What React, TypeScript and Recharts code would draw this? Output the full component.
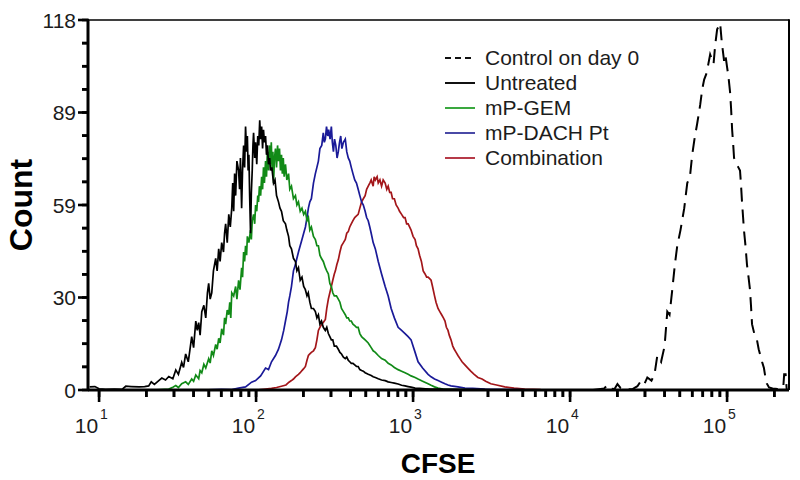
import { LineChart, Line, XAxis, YAxis } from 'recharts';

type Pt = [number, number]; // [CFSE, count]

const controlDay0: Pt[] = [
  [14000, 0], [16500, 0.5], [17300, 1.6], [18200, 0.4], [19200, 0.3], [20030, 1.9], [21000, 0.6], [22500, 0.2],
  [25000, 0.3], [26850, 1.2], [28000, 2.6], [29500, 1.5], [31050, 4], [33000, 3], [34500, 5], [35960, 11],
  [38000, 9], [40000, 14], [41610, 25], [43000, 24], [44770, 32], [46500, 40], [48170, 46], [50500, 51],
  [53360, 58], [55770, 66], [58000, 68], [59980, 75], [62000, 80], [64530, 85], [66000, 88], [67440, 91],
  [69500, 96], [71460, 99], [74000, 101], [76000, 104], [78010, 107], [82000, 104], [84000, 110], [86440, 115],
  [88500, 116], [90320, 117], [92500, 111], [95710, 105], [97500, 107], [100000, 103], [102000, 100], [104500, 95],
  [106000, 90], [107700, 83], [109500, 78], [110800, 74], [115000, 72], [118000, 71], [120900, 70], [122500, 66],
  [124500, 60], [126500, 55], [128100, 51], [131000, 46], [133900, 40], [137000, 36], [139900, 32], [142000, 27],
  [144200, 21], [149000, 18], [155000, 16], [159000, 13], [163000, 11], [167000, 9], [171700, 7], [175500, 4],
  [179400, 2], [185000, 0.8], [195000, 0.5], [210000, 0.3], [222000, 0.6], [228000, 0.8], [231000, 5], [236000, 5],
  [240000, 0],
];

const untreated: Pt[] = [
  [8.7, 1.0], [9.4, 1.1], [10, 0.4], [11, 0.2], [12.5, 0.3], [14, 0.2], [14.8, 1.2], [16, 1.1], [18, 1.0],
  [19.5, 1.1], [20.7, 1.3], [21.5, 2.6], [22.5, 1.8], [24, 3.0], [25.1, 3.8], [26.5, 3.2], [27.8, 4.3], [29.5, 3.6],
  [30.8, 6.4], [32, 5.0], [33.6, 8.8], [34.5, 7.2], [35.6, 11.5], [37, 9.0], [38.9, 17], [40, 13.5], [41.3, 22],
  [42.2, 19], [43.1, 21.5], [44, 17.5], [45.1, 25], [46.5, 27], [47.8, 23], [49, 31], [49.9, 34], [51, 29],
  [52.2, 31], [53.5, 38], [55.3, 42], [56.5, 38], [57.8, 45], [59, 41], [60.4, 47], [62, 44], [63, 50], [64, 53],
  [65.5, 47], [67, 56], [68.5, 52], [70, 58], [71, 66], [72, 57], [73, 69], [74.1, 62], [75.5, 73], [77.4, 70],
  [78.5, 64], [79.5, 74], [80.9, 58], [82, 70], [83.3, 78], [84.5, 71], [85.7, 84], [87, 76], [88, 81], [89, 70],
  [90, 75], [91, 62], [92.2, 50], [93.3, 63], [94.5, 70], [95.5, 78], [96.4, 82], [98, 74], [99.3, 79], [101, 72],
  [102.5, 81], [104, 78], [105.5, 86], [107, 80], [108.5, 84], [110, 77], [111.5, 83], [113, 79], [114.9, 81],
  [116.5, 75], [118, 78], [120, 72], [122, 74], [123.6, 70], [126, 71], [129.2, 66], [132, 67], [135, 62],
  [138.9, 60], [142, 58], [145.2, 57], [149, 54], [153.9, 53], [157, 51], [161, 49], [164, 46], [168, 45],
  [173, 42], [178.1, 41], [182, 38], [186.2, 39], [191, 35], [196, 36], [201, 33], [206, 32], [211, 30],
  [215, 31], [220, 28], [225, 26], [232, 26], [238.6, 25], [244, 23], [249.4, 24], [255, 21], [261, 22],
  [268, 20], [276, 19], [282, 20], [288.6, 18], [295, 17], [301.6, 16], [308, 16], [315, 14], [325, 14],
  [334, 13], [342, 12], [350, 11.5], [360, 10.5], [370, 10], [378, 10.5], [386.5, 9.5], [395, 9], [404, 8.5],
  [414, 8.5], [425, 8], [436, 7.5], [447, 7.5], [458, 6.5], [470, 6.2], [482, 6], [495, 5.5], [518, 5],
  [541, 4.6], [557, 4.2], [575, 4], [600, 3.6], [630, 3.2], [664, 3], [694, 2.6], [725, 2.4], [760, 2.2],
  [803, 1.9], [845, 1.5], [889, 1.3], [930, 1.1], [971, 0.9], [1030, 0.6], [1100, 0.5], [1200, 0.4],
  [1300, 0.3], [1450, 0.3], [1600, 0.2], [1900, 0.2], [2200, 0.1], [2800, 0.1], [3500, 0], [6000, 0],
];

const mpGem: Pt[] = [
  [22, 0], [27.8, 0.3], [29.5, 0.9], [30.8, 1.4], [32, 0.8], [33.6, 2.0], [35.6, 2.6], [37, 1.8], [38.9, 3.5],
  [40, 2.8], [41.3, 4.8], [43.1, 3.6], [44, 6.2], [45.1, 5.5], [46.5, 8.2], [47.8, 7.0], [49.9, 10], [51, 8.6],
  [52.2, 12.5], [53.5, 11], [55.3, 14.5], [56.5, 13], [57.8, 16.5], [59, 15], [60.4, 19.5], [62, 17.5], [63, 23],
  [64, 21], [65.5, 25.5], [66.9, 24], [68, 28], [69, 23], [70, 31], [72, 30], [74.1, 33], [75.5, 29], [77.4, 35],
  [79, 32], [80.9, 39], [82, 36], [83.3, 44], [84.5, 41], [85.7, 46], [87, 43], [88, 49], [90, 47], [92.2, 51],
  [93.3, 48], [94.5, 54], [96.4, 56], [98, 53], [99.3, 59], [101, 57], [102.5, 62], [103.7, 60], [105, 65],
  [106.9, 62], [108.5, 68], [110, 64], [111.5, 71], [113, 66], [114.9, 73], [116.5, 68], [118, 76], [120.1, 70],
  [121.5, 78], [123.6, 72], [125, 79], [126.5, 70], [128, 76], [129.2, 66], [131, 74], [132.9, 77], [135, 71],
  [137, 78], [138.9, 73], [141, 77], [143, 70], [145.2, 75], [147, 69], [149, 74], [151, 68], [153.9, 72],
  [157, 67], [161, 69], [164, 64], [168, 65], [173, 61], [178.1, 62], [182, 59], [186.2, 60], [191, 57],
  [196, 58], [201, 56], [206.2, 57], [211, 54], [215.4, 55], [220, 51], [225, 52], [232, 49], [238.6, 48],
  [244, 46], [249.4, 46], [255, 43], [260.6, 42], [268, 41], [276.2, 39], [282, 38], [288.6, 37], [295, 34],
  [301.6, 33], [308, 31], [315, 30], [325, 30], [334, 29], [342, 28], [350, 26], [360, 25], [370, 24],
  [378, 23], [386.5, 23], [395, 22], [404, 22], [414, 21], [425, 20.5], [436, 20], [447, 20], [458, 18],
  [470, 17], [482, 16.5], [495, 16], [518, 15], [541, 13.5], [557, 12.5], [575, 12], [600, 11], [630, 10],
  [664, 9.5], [694, 8.5], [725, 8], [760, 7.2], [803, 6.5], [845, 6], [889, 5.5], [930, 5], [971, 4.5],
  [1030, 4], [1076, 3.5], [1150, 2.8], [1246, 2], [1302, 1.5], [1370, 1], [1442, 0.6], [1550, 0.3],
  [1700, 0.2], [2000, 0.1], [3000, 0],
];

const mpDachPt: Pt[] = [
  [45, 0], [60, 0.2], [70, 0.1], [77.4, 0.6], [85.7, 1.0], [93.6, 2.5], [99.3, 3], [106.9, 4.5], [114.9, 7],
  [120, 6.5], [125.4, 9], [132.9, 11], [138.9, 13], [145.2, 16], [150, 19], [153.9, 22], [158, 25], [161, 28],
  [164, 30], [168, 33], [173, 38], [178.1, 40], [182, 42], [186.2, 44], [191, 46], [196, 48], [201, 50],
  [206.2, 52], [211, 55], [215.4, 58], [220, 60], [225, 61], [232, 66], [238.6, 69], [244, 71], [249.4, 73],
  [255, 77], [262, 78], [268, 82], [272, 79], [276.2, 80], [281, 84], [286, 81], [290, 83], [296, 80],
  [301.6, 84], [306, 79], [311, 76], [316, 80], [322, 78], [328, 74], [334, 76], [340, 79], [346, 81],
  [352, 77], [360, 79], [370, 80], [378, 76], [386.5, 74], [395, 73], [404, 71], [414, 69], [425, 67],
  [436, 66], [447, 64], [458, 62], [470, 60], [482, 59], [495, 57], [506, 55], [518, 54], [530, 52],
  [541, 50], [557, 47], [575, 45], [600, 41], [630, 37], [664, 33], [694, 30], [725, 26], [760, 23],
  [803, 20], [845, 19], [889, 18], [930, 17], [971, 16], [1030, 12], [1076, 9], [1150, 7], [1246, 5],
  [1302, 4.2], [1370, 3.5], [1442, 3], [1520, 2.5], [1597, 2], [1669, 1.6], [1744, 1.3], [1931, 1],
  [2138, 0.6], [2400, 0.5], [2866, 0.3], [3500, 0.2], [4500, 0.1], [6000, 0],
];

const combination: Pt[] = [
  [100, 0], [115, 0.3], [125.4, 0.5], [135, 0.8], [145, 1.2], [155, 1.6], [162, 2.5], [168, 3], [173, 3.5],
  [178.1, 4.2], [182, 4.6], [186.2, 5], [191, 5.5], [196, 6.2], [201, 6.8], [206.2, 7.5], [211, 9.5],
  [215.4, 11], [220, 11.5], [225, 12], [232, 12.5], [238.6, 13.5], [244, 16], [249.4, 19], [255, 20],
  [262, 21], [268, 21.5], [276.2, 22.5], [282, 26], [288.6, 29], [295, 31], [301.6, 33], [308, 35],
  [315, 37], [320, 38], [327, 40], [334, 41.5], [342, 44], [350, 46], [360, 47], [370, 48], [378, 50],
  [386.5, 50.5], [395, 52], [404, 53], [414, 54], [425, 55], [436, 55.5], [447, 56], [458, 58], [470, 60],
  [482, 61], [495, 62], [506, 64], [518, 65], [530, 66], [541, 67], [557, 65], [565, 68], [575, 67],
  [590, 68], [600, 66], [615, 67], [630, 65], [645, 67], [664, 66], [680, 64], [694, 65], [710, 63],
  [725, 63], [740, 61], [760, 61], [780, 59], [803, 58], [820, 57], [845, 56], [870, 55], [889, 55],
  [910, 53], [930, 53], [950, 52], [971, 51], [1000, 49], [1030, 48], [1050, 46], [1076, 45], [1100, 43],
  [1130, 41], [1160, 38], [1192, 37], [1220, 36], [1246, 36], [1275, 35.5], [1302, 35], [1330, 33],
  [1370, 30], [1400, 28], [1442, 26], [1480, 25], [1520, 24], [1560, 23], [1597, 22], [1630, 20],
  [1669, 19], [1700, 17.5], [1744, 16], [1790, 14], [1830, 13], [1880, 12], [1931, 11], [1990, 10],
  [2050, 9], [2138, 8], [2234, 7], [2330, 6], [2450, 5], [2588, 4], [2750, 3.5], [2900, 2.8], [3128, 2],
  [3400, 1.6], [3838, 1], [4400, 0.6], [5144, 0.3], [6500, 0.1], [9000, 0],
];

const xMajorTicks = [10, 100, 1000, 10000, 100000];
const xMinorTicks = [
  20, 30, 40, 50, 60, 70, 80, 90,
  200, 300, 400, 500, 600, 700, 800, 900,
  2000, 3000, 4000, 5000, 6000, 7000, 8000, 9000,
  20000, 30000, 40000, 50000, 60000, 70000, 80000, 90000,
  200000,
];
const yMajorTicks = [0, 29.5, 59, 88.5, 118];
const yMinorTicks = [7.375, 14.75, 22.125, 36.875, 44.25, 51.625, 66.375, 73.75, 81.125, 95.875, 103.25, 110.625];

const seriesNames = ['Control on day 0', 'Untreated', 'mP-GEM', 'mP-DACH Pt', 'Combination'];
const seriesData = [controlDay0, untreated, mpGem, mpDachPt, combination];
const seriesColors = ['#000000', '#000000', '#118a17', '#1a1a98', '#a3161a'];
const legendColors = ['#111111', '#111111', '#3aa83f', '#4a4aa6', '#b63a48'];
const drawOrder = [4, 3, 2, 1, 0];

const X_DOMAIN = [8.5, 248000];
const Y_DOMAIN = [0, 118];
const PLOT = { left: 88, top: 20, width: 701, height: 370 };

const FONT = '"Liberation Sans", Arial, Helvetica, sans-serif';
const TEXT = '#1c1c1c';

const toRows = (pts: Pt[]) => pts.map(([cfse, count]) => ({ cfse, count }));

// same mapping the chart uses (log x, linear y) for the tick-mark overlay
const xPos = (v: number) =>
  PLOT.left + (PLOT.width * (Math.log10(v) - Math.log10(X_DOMAIN[0]))) / (Math.log10(X_DOMAIN[1]) - Math.log10(X_DOMAIN[0]));
const yPos = (v: number) => PLOT.top + PLOT.height - (PLOT.height * (v - Y_DOMAIN[0])) / (Y_DOMAIN[1] - Y_DOMAIN[0]);

function XTick(props: any) {
  const x = Number(props.x);
  const y = Number(props.y);
  const v = props.payload.value;
  if (!xMajorTicks.includes(v)) return <g />;
  return (
    <g>
      <text x={x - 1} y={y + 36} fontSize={21} textAnchor="end" fontFamily={FONT} fill={TEXT}>10</text>
      <text x={x + 1} y={y + 22} fontSize={14} textAnchor="start" fontFamily={FONT} fill={TEXT}>
        {Math.round(Math.log10(v))}
      </text>
    </g>
  );
}

function YTick(props: any) {
  const x = Number(props.x);
  const y = Number(props.y);
  const v = props.payload.value;
  if (!yMajorTicks.includes(v)) return <g />;
  return (
    <text x={x - 6} y={y} dy="0.36em" textAnchor="end" fontFamily={FONT} fontSize={21} fill={TEXT}>
      {Math.round(v)}
    </text>
  );
}

function TickMarks() {
  const bottom = PLOT.top + PLOT.height;
  return (
    <svg width={800} height={480} style={{ position: 'absolute', left: 0, top: 0, pointerEvents: 'none' }}>
      {[...xMajorTicks, ...xMinorTicks].map((v) => {
        const len = xMajorTicks.includes(v) ? 12 : 7;
        return <rect key={`x${v}`} x={xPos(v) - 1.3} y={bottom - 1} width={2.6} height={len + 1} fill="#000" />;
      })}
      {[...yMajorTicks, ...yMinorTicks].map((v) => {
        const len = yMajorTicks.includes(v) ? 10 : 6;
        return <rect key={`y${v}`} x={PLOT.left - len} y={yPos(v) - 1.3} width={len + 1} height={2.6} fill="#000" />;
      })}
      <rect x={PLOT.left} y={PLOT.top - 0.75} width={PLOT.width} height={1.5} fill="#000" />
      <rect x={PLOT.left + PLOT.width - 1} y={PLOT.top - 0.75} width={2} height={PLOT.height + 0.75} fill="#000" />
    </svg>
  );
}

export default function App() {
  return (
    <div style={{ position: 'absolute', left: 0, top: 0, width: 800, height: 480, background: '#fff' }}>
      <LineChart width={800} height={480} margin={{ top: PLOT.top, right: 800 - PLOT.left - PLOT.width, bottom: 0, left: 0 }}>
        <XAxis
          dataKey="cfse"
          type="number"
          scale="log"
          domain={X_DOMAIN}
          allowDataOverflow
          ticks={[...xMajorTicks, ...xMinorTicks]}
          interval={0}
          tick={XTick}
          tickLine={{ stroke: '#000', strokeWidth: 2.6 }}
          tickSize={7}
          tickMargin={0}
          height={90}
          axisLine={{ stroke: '#000', strokeWidth: 3 }}
        />
        <YAxis
          type="number"
          domain={Y_DOMAIN}
          ticks={[...yMajorTicks, ...yMinorTicks]}
          interval={0}
          tick={YTick}
          tickLine={{ stroke: '#000', strokeWidth: 2.6 }}
          tickSize={6}
          tickMargin={0}
          width={PLOT.left}
          axisLine={{ stroke: '#000', strokeWidth: 3 }}
        />
        {drawOrder.map((i) => (
          <Line
            key={seriesNames[i]}
            name={seriesNames[i]}
            data={toRows(seriesData[i])}
            dataKey="count"
            type="linear"
            stroke={seriesColors[i]}
            strokeWidth={i === 0 ? 2 : 1.7}
            strokeDasharray={i === 0 ? '14 8' : undefined}
            dot={false}
            activeDot={false}
            isAnimationActive={false}
          />
        ))}
      </LineChart>
      <TickMarks />
      <div style={{ position: 'absolute', left: 21, top: 205, transform: 'translate(-50%, -50%) rotate(-90deg)',
        fontFamily: FONT, fontWeight: 'bold', fontSize: 32, lineHeight: '32px', whiteSpace: 'nowrap' }}>
        Count
      </div>
      <div style={{ position: 'absolute', left: 438, top: 450, transform: 'translateX(-50%)',
        fontFamily: FONT, fontWeight: 'bold', fontSize: 28, lineHeight: '28px' }}>
        CFSE
      </div>
      <div style={{ position: 'absolute', left: 445, top: 45, fontFamily: FONT, fontSize: 21, color: TEXT }}>
        {seriesNames.map((name, i) => (
          <div key={name} style={{ display: 'flex', alignItems: 'center', height: 25 }}>
            <svg width={30} height={4}>
              <line x1={0} x2={30} y1={2} y2={2} stroke={legendColors[i]} strokeWidth={2}
                strokeDasharray={i === 0 ? '6 4' : undefined} />
            </svg>
            <span style={{ marginLeft: 10, lineHeight: '25px' }}>{name}</span>
          </div>
        ))}
      </div>
    </div>
  );
}
